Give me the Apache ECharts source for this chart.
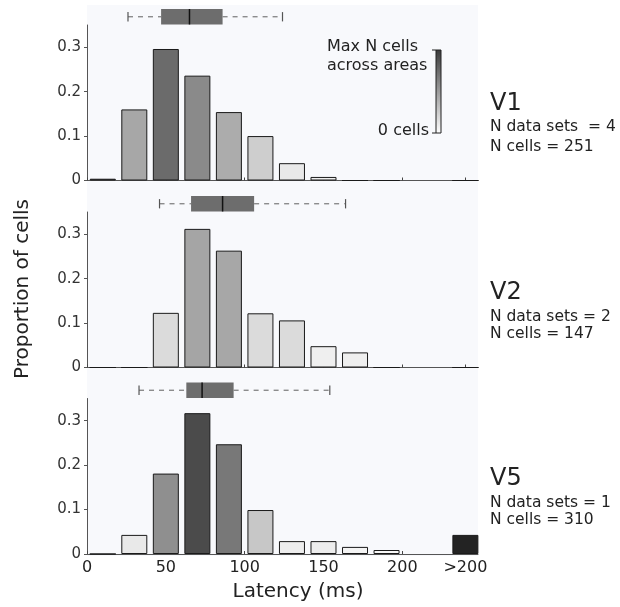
<!DOCTYPE html>
<html>
<head>
<meta charset="utf-8">
<script src="https://cdn.jsdelivr.net/npm/echarts@6/dist/echarts.min.js"></script>
<style>
html, body { margin: 0; padding: 0; background: #fff; }
#chart { width: 620px; height: 607px; }
</style>
</head>
<body>
<div id="chart"></div>
<script>
// bin centres in ms (20 ms bins), the last one is the ">200" bin
var binCenters = [10, 30, 50, 70, 90, 110, 130, 150, 170, 190, 240];
var xTickValues = [0, 50, 100, 150, 200, 240];
var xTickLabels = ['0', '50', '100', '150', '200', '>200'];
var yTickValues = [0, 0.1, 0.2, 0.3];

var areaNames = ['V1', 'V2', 'V5'];
var nDataSets = [4, 2, 1];
var nCells = [251, 147, 310];

// proportion of cells in each bin
var v1Prop = [0.004, 0.160, 0.296, 0.236, 0.154, 0.100, 0.039, 0.008, 0, 0, 0];
var v2Prop = [0, 0, 0.123, 0.312, 0.263, 0.122, 0.106, 0.048, 0.034, 0, 0];
var v5Prop = [0, 0.043, 0.181, 0.317, 0.247, 0.099, 0.029, 0.029, 0.016, 0.009, 0.043];

// bar shade: 0 = 0 cells, 1 = max N cells across areas
var v1Shade = [0.73, 0.39, 0.66, 0.52, 0.37, 0.22, 0.10, 0.07, 0, 0, 0];
var v2Shade = [0, 0, 0.16, 0.40, 0.39, 0.16, 0.16, 0.07, 0.07, 0, 0];
var v5Shade = [0, 0.10, 0.50, 0.80, 0.60, 0.25, 0.08, 0.08, 0.05, 0.03, 0.98];

// latency box plots: min, q1, median, q3, max (ms)
var v1Box = [26, 47, 65, 86, 124];
var v2Box = [46, 66, 86, 106, 164];
var v5Box = [33, 63, 73, 93, 154];

var props = [v1Prop, v2Prop, v5Prop];
var shades = [v1Shade, v2Shade, v5Shade];
var boxes = [v1Box, v2Box, v5Box];

var FONT = 'DejaVu Sans';
var histTops = [25, 212, 398.5];
var histH = 155.5;
var boxH = 15.5;

var myChart = echarts.init(document.getElementById('chart'));

function renderBox(params, api) {
  var y = api.coord([0, 0.5])[1];
  var h = api.size([0, 1])[1];
  var p = [0, 1, 2, 3, 4].map(function (i) { return api.coord([api.value(i), 0.5])[0]; });
  var cap = h * 0.3;
  var dash = { stroke: '#7a7a7a', lineWidth: 1.2, lineDash: [5, 5] };
  var solid = { stroke: '#555', lineWidth: 1.2 };
  return {
    type: 'group',
    children: [
      { type: 'line', shape: { x1: p[0], y1: y, x2: p[1], y2: y }, style: dash },
      { type: 'line', shape: { x1: p[3], y1: y, x2: p[4], y2: y }, style: dash },
      { type: 'line', shape: { x1: p[0], y1: y - cap, x2: p[0], y2: y + cap }, style: solid },
      { type: 'line', shape: { x1: p[4], y1: y - cap, x2: p[4], y2: y + cap }, style: solid },
      { type: 'rect', shape: { x: p[1], y: y - h / 2, width: p[3] - p[1], height: h }, style: { fill: '#6d6d6d' } },
      { type: 'line', shape: { x1: p[2], y1: y - h / 2, x2: p[2], y2: y + h / 2 }, style: { stroke: '#111', lineWidth: 1.5 } }
    ]
  };
}

var grids = [], xAxes = [], yAxes = [], series = [];
for (var i = 0; i < 3; i++) {
  var last = (i === 2);
  // histogram grid
  grids.push({ left: 87, width: 391, top: histTops[i], height: histH });
  xAxes.push({
    type: 'value', gridIndex: i * 2, min: 0, max: 248,
    axisLine: { show: true, lineStyle: { color: '#555', width: 1 } },
    axisTick: { show: true, inside: true, length: 3, customValues: xTickValues, lineStyle: { color: '#444' } },
    axisLabel: {
      show: last, customValues: xTickValues, margin: 6,
      fontFamily: FONT, fontSize: 16, color: '#222',
      formatter: function (v) { return xTickLabels[xTickValues.indexOf(v)]; }
    },
    splitLine: { show: false }
  });
  yAxes.push({
    type: 'value', gridIndex: i * 2, min: 0, max: 0.35,
    axisLine: { show: true, lineStyle: { color: '#555', width: 1 } },
    axisTick: { show: true, length: 3, customValues: yTickValues, lineStyle: { color: '#555' } },
    axisLabel: { customValues: yTickValues, margin: 6, fontFamily: FONT, fontSize: 15, color: '#333' },
    splitLine: { show: false }
  });
  // box plot grid, just above the histogram
  grids.push({ left: 87, width: 391, top: histTops[i] - boxH - 0.5, height: boxH });
  xAxes.push({ type: 'value', gridIndex: i * 2 + 1, min: 0, max: 248, show: false });
  yAxes.push({ type: 'value', gridIndex: i * 2 + 1, min: 0, max: 1, show: false });

  var d = binCenters.map(function (x, k) { return [x, props[i][k], shades[i][k]]; });
  series.push({
    type: 'bar', name: areaNames[i], xAxisIndex: i * 2, yAxisIndex: i * 2,
    data: d, barWidth: 26, encode: { x: 0, y: 1 },
    itemStyle: { borderColor: '#1a1a1a', borderWidth: 1 },
    silent: true, clip: false
  });
}
for (var j = 0; j < 3; j++) {
  series.push({
    type: 'custom', xAxisIndex: j * 2 + 1, yAxisIndex: j * 2 + 1,
    data: [boxes[j]], encode: { x: [0, 1, 2, 3, 4] },
    renderItem: renderBox, silent: true, clip: false
  });
}

var graphics = [
  { type: 'rect', z: -100, shape: { x: 87, y: 5, width: 391, height: 551 }, style: { fill: '#f8f9fc' } },
  {
    type: 'rect', shape: { x: 436, y: 50, width: 5, height: 83 },
    style: {
      fill: new echarts.graphic.LinearGradient(0, 0, 0, 1, [
        { offset: 0, color: '#3a3a3a' }, { offset: 1, color: '#ffffff' }
      ]),
      stroke: '#222', lineWidth: 1
    }
  },
  { type: 'line', shape: { x1: 432, y1: 50, x2: 436, y2: 50 }, style: { stroke: '#222', lineWidth: 1 } },
  { type: 'line', shape: { x1: 432, y1: 133, x2: 436, y2: 133 }, style: { stroke: '#222', lineWidth: 1 } },
  { type: 'text', x: 327, y: 47, style: { text: 'Max N cells', font: '16px "DejaVu Sans"', fill: '#222', align: 'left', verticalAlign: 'middle' } },
  { type: 'text', x: 327, y: 66, style: { text: 'across areas', font: '16px "DejaVu Sans"', fill: '#222', align: 'left', verticalAlign: 'middle' } },
  { type: 'text', x: 429, y: 131, style: { text: '0 cells', font: '16px "DejaVu Sans"', fill: '#222', align: 'right', verticalAlign: 'middle' } },
  { type: 'text', x: 22.5, y: 289, rotation: Math.PI / 2, style: { text: 'Proportion of cells', font: '20px "DejaVu Sans"', fill: '#222', align: 'center', verticalAlign: 'middle' } },
  { type: 'text', x: 298, y: 592, style: { text: 'Latency (ms)', font: '20px "DejaVu Sans"', fill: '#222', align: 'center', verticalAlign: 'middle' } }
];
var labelY = [[103.5, 127, 146.5], [292.3, 316.5, 333.5], [478.3, 503.3, 520]];
for (var m = 0; m < 3; m++) {
  graphics.push({ type: 'text', x: 490, y: labelY[m][0], style: { text: areaNames[m], font: '24px "DejaVu Sans"', fill: '#222', verticalAlign: 'middle' } });
  graphics.push({ type: 'text', x: 490, y: labelY[m][1], style: { text: 'N data sets ' + (m === 0 ? ' ' : '') + '= ' + nDataSets[m], font: '15.5px "DejaVu Sans"', fill: '#222', verticalAlign: 'middle' } });
  graphics.push({ type: 'text', x: 490, y: labelY[m][2], style: { text: 'N cells = ' + nCells[m], font: '15.5px "DejaVu Sans"', fill: '#222', verticalAlign: 'middle' } });
}

myChart.setOption({
  animation: false,
  textStyle: { fontFamily: FONT },
  grid: grids,
  xAxis: xAxes,
  yAxis: yAxes,
  visualMap: {
    show: false, type: 'continuous', min: 0, max: 1, dimension: 2,
    seriesIndex: [0, 1, 2],
    inRange: { color: ['#ffffff', '#1e1e1e'] }
  },
  graphic: graphics,
  series: series
});
</script>
</body>
</html>
